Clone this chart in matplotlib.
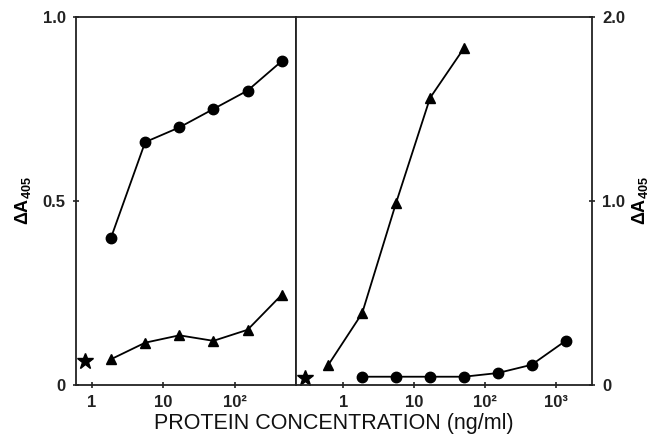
import numpy as np
import matplotlib
matplotlib.use("Agg")
import matplotlib.pyplot as plt

plt.rcParams['font.family'] = ['Liberation Sans', 'DejaVu Sans']
plt.rcParams['mathtext.fontset'] = 'custom'
plt.rcParams['mathtext.rm'] = 'Liberation Sans'
plt.rcParams['mathtext.bf'] = 'Liberation Sans:bold'

# left panel (0 - 1.0)
left_x = [1.85, 5.56, 16.7, 50, 150, 450]
left_circ = [0.40, 0.66, 0.70, 0.75, 0.80, 0.88]
left_tri = [0.07, 0.115, 0.135, 0.12, 0.15, 0.245]
left_star = (0.8, 0.066)

# right panel (0 - 2.0)
right_tri_x = [0.62, 1.85, 5.56, 16.7, 50]
right_tri = [0.11, 0.39, 0.99, 1.56, 1.83]
right_circ_x = [1.85, 5.56, 16.7, 50, 150, 450, 1350]
right_circ = [0.045, 0.045, 0.045, 0.045, 0.065, 0.11, 0.24]
right_star = (0.29, 0.04)

left_ticks = [1, 10, 100]
left_ticklabels = ['1', '10', '10²']
right_ticks = [1, 10, 100, 1000]
right_ticklabels = ['1', '10', '10²', '10³']

ylab = r'$\mathbf{\Delta A}_{\mathbf{405}}$'

fig = plt.figure(figsize=(6.5, 4.34), dpi=100)
ax1 = fig.add_axes([76/650, 1-385/434, 220/650, 368/434])
ax2 = fig.add_axes([296/650, 1-385/434, 296/650, 368/434])

for ax in (ax1, ax2):
    ax.set_xscale('log')
    for s in ax.spines.values():
        s.set_linewidth(1.3)
        s.set_color('#222222')
    ax.minorticks_off()
    ax.tick_params(direction='inout', length=5, width=1.2, colors='#222222',
                   labelsize=12, pad=5)

# left panel
ax1.plot(left_x, left_circ, '-o', color='black', lw=1.3, ms=7.5)
ax1.plot(left_x, left_tri, '-^', color='black', lw=1.3, ms=7)
ax1.plot(*left_star, marker='*', color='black', ms=12)
ax1.set_xlim(0.6, 713)
ax1.set_ylim(0, 1.0)
ax1.set_xticks(left_ticks)
ax1.set_xticklabels(left_ticklabels, fontweight='bold')
ax1.set_yticks([0, 0.5, 1.0])
ax1.set_yticklabels(['0', '0.5', '1.0'], fontweight='bold')
ax1.set_ylabel(ylab, fontsize=13, labelpad=7)

# right panel
ax2.plot(right_tri_x, right_tri, '-^', color='black', lw=1.3, ms=7)
ax2.plot(right_circ_x, right_circ, '-o', color='black', lw=1.3, ms=7.5)
ax2.plot(*right_star, marker='*', color='black', ms=12)
ax2.set_xlim(0.217, 3177)
ax2.set_ylim(0, 2.0)
ax2.set_xticks(right_ticks)
ax2.set_xticklabels(right_ticklabels, fontweight='bold')
ax2.yaxis.tick_right()
ax2.yaxis.set_label_position('right')
ax2.set_yticks([0, 1.0, 2.0])
ax2.set_yticklabels(['0', '1.0', '2.0'], fontweight='bold')
ax2.set_ylabel(ylab, fontsize=13, labelpad=3, rotation=90)

fig.text(334/650, 1-423/434, 'PROTEIN CONCENTRATION (ng/ml)', ha='center',
         va='center', fontsize=15.5, color='#111111')

fig.savefig('out.png', dpi=100)
